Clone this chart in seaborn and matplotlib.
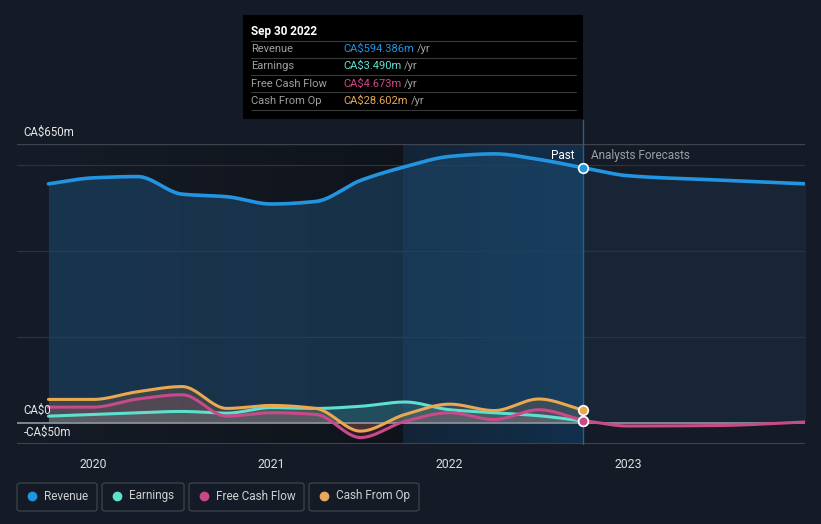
import numpy as np
import pandas as pd
import matplotlib
matplotlib.use("Agg")
import matplotlib.pyplot as plt
from matplotlib.patches import Rectangle, FancyBboxPatch
from matplotlib.lines import Line2D
import seaborn as sns

# ---------------- data (CA$ millions, trailing twelve months) ----------------
past_dates = [2019.75, 2020.0, 2020.25, 2020.5, 2020.75, 2021.0, 2021.25,
              2021.5, 2021.75, 2022.0, 2022.25, 2022.5, 2022.75]
revenue = [557, 571, 574, 533, 527, 510, 516, 565, 597, 621, 627, 614, 594.386]
earnings = [15, 19, 23, 26, 22, 35, 33, 38, 48, 30, 23, 16, 3.49]
free_cash_flow = [36, 36, 55, 65, 15, 23, 19, -35, 3, 23, 7, 30, 4.673]
cash_from_op = [54, 54, 72, 84, 33, 40, 33, -20, 19, 43, 28, 55, 28.602]

fc_dates = [2022.75, 2023.0, 2023.5, 2024.0]
revenue_fc = [594.386, 576, 566, 557]
fcf_fc_dates = [2022.75, 2023.0, 2023.5, 2024.0]
fcf_fc = [4.673, -8, -7, 1.5]

year_ticks = [2020, 2021, 2022, 2023]
year_labels = ["2020", "2021", "2022", "2023"]
y_labels = {650: "CA$650m", 0: "CA$0", -50: "-CA$50m"}

tooltip_title = "Sep 30 2022"
tooltip_rows = [("Revenue", "CA$594.386m", "#2394df"),
                ("Earnings", "CA$3.490m", "#5fe0cf"),
                ("Free Cash Flow", "CA$4.673m", "#d0488a"),
                ("Cash From Op", "CA$28.602m", "#e9a851")]

legend_items = [("Revenue", "#2394df"), ("Earnings", "#5fe0cf"),
                ("Free Cash Flow", "#c44a87"), ("Cash From Op", "#e6a95e")]

C_REV = "#2394df"
C_EARN = "#5fe0cf"
C_FCF = "#c94a8a"
C_CFO = "#e9a851"
BG = "#151b26"


def smooth(x, y, n=300):
    """Monotone cubic (Fritsch-Carlson) rendering of the given points."""
    x = np.asarray(x, float)
    y = np.asarray(y, float)
    h = np.diff(x)
    d = np.diff(y) / h
    m = np.zeros_like(y)
    m[0], m[-1] = d[0], d[-1]
    for i in range(1, len(y) - 1):
        if d[i - 1] * d[i] <= 0:
            m[i] = 0
        else:
            w1 = 2 * h[i] + h[i - 1]
            w2 = h[i] + 2 * h[i - 1]
            m[i] = (w1 + w2) / (w1 / d[i - 1] + w2 / d[i])
    xs = np.linspace(x[0], x[-1], n)
    idx = np.clip(np.searchsorted(x, xs) - 1, 0, len(x) - 2)
    t = (xs - x[idx]) / h[idx]
    h00 = 2 * t**3 - 3 * t**2 + 1
    h10 = t**3 - 2 * t**2 + t
    h01 = -2 * t**3 + 3 * t**2
    h11 = t**3 - t**2
    ys = (h00 * y[idx] + h10 * h[idx] * m[idx] + h01 * y[idx + 1]
          + h11 * h[idx] * m[idx + 1])
    return xs, ys


W, H = 821, 524
fig = plt.figure(figsize=(W / 100, H / 100), dpi=100)
fig.patch.set_facecolor(BG)
sns.set_style("dark")
plt.rcParams['font.family'] = ['Roboto', 'DejaVu Sans']

ax_l, ax_r, ax_t, ax_b = 17, 805, 144, 444
ax = fig.add_axes([ax_l / W, 1 - ax_b / H, (ax_r - ax_l) / W, (ax_b - ax_t) / H])
ax.set_facecolor(BG)
x0 = 2020 - (93 - ax_l) / 178.3
x1 = 2023 + (ax_r - 628) / 178.3
ax.set_xlim(x0, x1)
ax.set_ylim(-50, 650)

band_start = 2021.74
past_end = past_dates[-1]

# darker overlay on older past region (gradient)
grad = np.zeros((2, 256, 4))
grad[..., :3] = np.array([0.04, 0.05, 0.07])
grad[..., 3] = np.linspace(0.0, 0.55, 256)[None, :]
ax.imshow(grad, extent=[past_dates[0], band_start, -50, 650], aspect="auto",
          zorder=0, interpolation="bilinear")

# highlighted last-year band (gradient)
grad2 = np.zeros((2, 256, 4))
grad2[..., :3] = np.array([0.06, 0.23, 0.38])
grad2[..., 3] = np.linspace(0.3, 0.65, 256)[None, :]
ax.imshow(grad2, extent=[band_start, past_end, -50, 650], aspect="auto",
          zorder=0.5, interpolation="bilinear")

# gridlines
for g in [200, 400, 600]:
    ax.axhline(g, color="#2a323e", lw=0.9, zorder=1)
ax.axhline(650, color="#3d4450", lw=1.0, zorder=1)

# revenue
rx, ry = smooth(past_dates, revenue)
ax.fill_between(rx, 0, ry, color="#1d4a6e", alpha=0.55, lw=0, zorder=1.5)
fx, fy = smooth(fc_dates, revenue_fc)
ax.fill_between(fx, 0, fy, color="#1d3a55", alpha=0.35, lw=0, zorder=1.5)

series = [(earnings, C_EARN), (free_cash_flow, C_FCF), (cash_from_op, C_CFO)]
curves = []
for vals, col in series:
    sx, sy = smooth(past_dates, vals)
    curves.append((sx, sy, col))
    ax.fill_between(sx, 0, sy, color=col, alpha=0.16, lw=0, zorder=2)

fcx, fcy = smooth(fcf_fc_dates, fcf_fc)
ax.fill_between(fcx, 0, fcy, color=C_FCF, alpha=0.08, lw=0, zorder=2)

# zero line and bottom axis line
ax.axhline(0, color="#8a8f98", lw=1.3, zorder=2.5)
ax.axhline(-50, color="#3d4450", lw=1.5, zorder=2.5)

# lines via seaborn
df_rev = pd.DataFrame({"x": rx, "y": ry})
sns.lineplot(data=df_rev, x="x", y="y", ax=ax, color=C_REV, lw=2.6, zorder=4)
df_revf = pd.DataFrame({"x": fx, "y": fy})
sns.lineplot(data=df_revf, x="x", y="y", ax=ax, color=C_REV, lw=2.6, zorder=4)
for sx, sy, col in curves:
    sns.lineplot(data=pd.DataFrame({"x": sx, "y": sy}), x="x", y="y", ax=ax,
                 color=col, lw=2.2, zorder=3.5)
sns.lineplot(data=pd.DataFrame({"x": fcx, "y": fcy}), x="x", y="y", ax=ax,
             color=C_FCF, lw=2.2, zorder=3.5)

# markers at the latest point
for v, col in [(revenue[-1], C_REV), (cash_from_op[-1], C_CFO),
               (earnings[-1], C_EARN), (free_cash_flow[-1], C_FCF)]:
    ax.scatter([past_end], [v], s=48, color=col, edgecolor="white",
               linewidth=1.2, zorder=6)

# vertical past/forecast divider (extends above axes to the tooltip)
ax.axvline(past_end, color="#2b5f86", lw=1.0, zorder=3, ymax=1.08, clip_on=False)

ax.text(past_end - 0.05, 623, "Past", color="white", fontsize=8.5,
        ha="right", va="center", zorder=7)
ax.text(past_end + 0.04, 623, "Analysts Forecasts", color="#9aa0a8",
        fontsize=8.5, ha="left", va="center", zorder=7)

# axes styling
ax.set_xticks(year_ticks)
ax.set_xticklabels(year_labels)
ax.set_yticks([])
ax.tick_params(axis="x", colors="#dddddd", labelsize=8.8, length=4,
               color="#3d4450", pad=6, direction="out")
ax.set_xlabel("")
ax.set_ylabel("")
for s in ax.spines.values():
    s.set_visible(False)
ax.grid(False)

# y labels
trans = ax.get_yaxis_transform()
ax.text(0.008, 650 + 28, y_labels[650], transform=trans, color="#e6e6e6",
        fontsize=8.3, va="center", ha="left")
ax.text(0.008, 0 + 28, y_labels[0], transform=trans, color="#e6e6e6",
        fontsize=8.3, va="center", ha="left", zorder=7)
ax.text(0.008, -22, y_labels[-50], transform=trans, color="#e6e6e6",
        fontsize=8.3, va="center", ha="left", zorder=7)


def fx_(px):
    return px / W


def fy_(py):
    return 1 - py / H


# tooltip
tb_l, tb_t, tb_r, tb_b = 243, 15, 583, 119
fig.patches.append(Rectangle((fx_(tb_l), fy_(tb_b)), (tb_r - tb_l) / W,
                             (tb_b - tb_t) / H, transform=fig.transFigure,
                             facecolor="#000000", edgecolor="none", zorder=10))
fig.text(fx_(251), fy_(31), tooltip_title, color="white", fontsize=8.5,
         fontweight="bold", va="center", ha="left", zorder=11)
row_y = [49, 66, 84, 101]
sep_y = [41, 58, 75, 92, 110]
for sy_ in sep_y:
    fig.add_artist(Line2D([fx_(251), fx_(576)], [fy_(sy_), fy_(sy_)],
                          color="#3a3a3a", lw=0.8, zorder=11))
for (lab, val, col), yy in zip(tooltip_rows, row_y):
    fig.text(fx_(251), fy_(yy), lab, color="#a0a0a0", fontsize=8,
             va="center", ha="left", zorder=11)
    t = fig.text(fx_(343), fy_(yy), val, color=col, fontsize=8,
                 va="center", ha="left", zorder=11)
    fig.canvas.draw()
    bb = t.get_window_extent()
    fig.text((bb.x1 + 3) / W, fy_(yy), "/yr", color="#a0a0a0", fontsize=8,
             va="center", ha="left", zorder=11)

# legend
boxes = [(17, 97), (102, 184), (189, 304), (309, 419)]
for (lab, col), (bl, br) in zip(legend_items, boxes):
    fig.patches.append(FancyBboxPatch((fx_(bl), fy_(511)), (br - bl) / W, 28 / H,
                                      boxstyle="round,pad=0,rounding_size=0.004",
                                      transform=fig.transFigure,
                                      facecolor="none", edgecolor="#3e434c",
                                      lw=0.9))
    fig.add_artist(Line2D([fx_(bl + 15)], [fy_(496)], marker="o", markersize=6,
                          color=col, transform=fig.transFigure, lw=0))
    fig.text(fx_(bl + 27), fy_(496), lab, color="#d0d0d0", fontsize=8.5,
             va="center", ha="left")

fig.savefig("out.png", dpi=100, facecolor=BG)
